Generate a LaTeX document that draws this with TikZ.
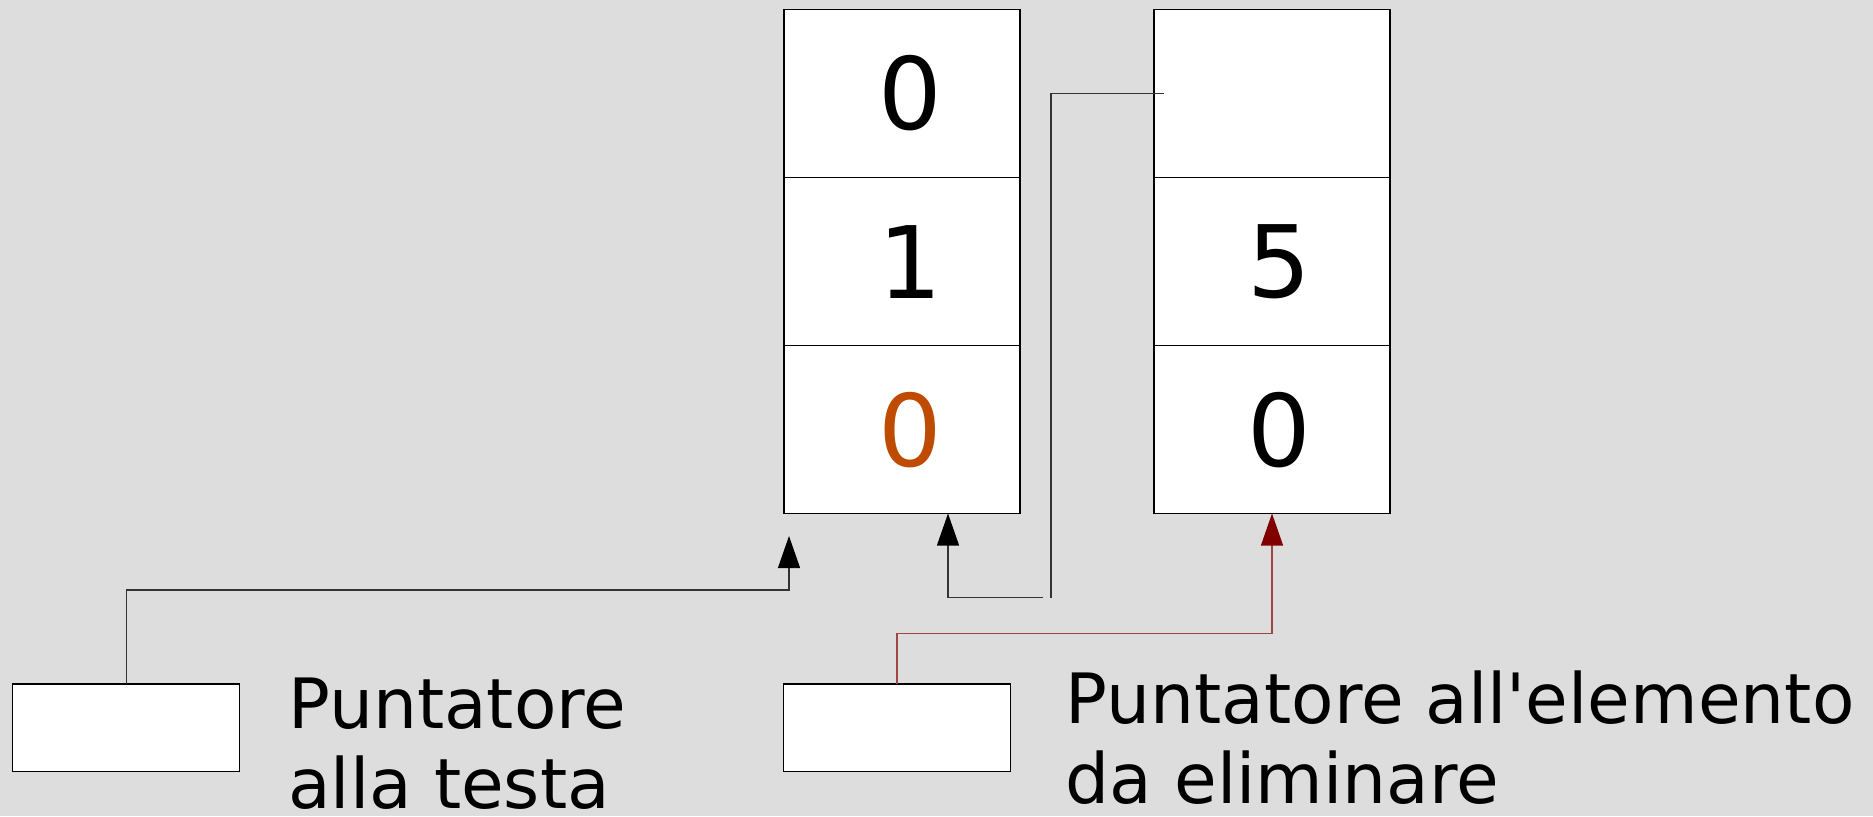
\documentclass[tikz,border=0pt]{standalone}
\usepackage{fontspec}
\setmainfont{DejaVu Sans}[Ligatures=TeXOff]
\usetikzlibrary{arrows.meta}
\definecolor{bg}{HTML}{DDDDDD}
\definecolor{orng}{HTML}{BE4B00}
\definecolor{dred}{HTML}{800000}
\definecolor{lred}{HTML}{A04545}
\definecolor{lgray}{HTML}{333333}
\begin{document}
\begin{tikzpicture}[x=0.5pt,y=-0.5pt,
 cell/.style={draw=black,fill=white,line width=0.6pt,minimum width=118pt,minimum height=84pt,inner sep=0pt,outer sep=0pt},
 ptrbox/.style={draw=black,fill=white,line width=0.6pt,minimum width=113.6pt,minimum height=43.6pt,inner sep=0pt,outer sep=0pt},
 digit/.style={font=\fontsize{50pt}{60pt}\selectfont,inner sep=0pt},
 lab/.style={font=\fontsize{34.7pt}{40pt}\selectfont,align=left,inner sep=0pt,anchor=base west},
 conn/.style={draw=lgray,line width=0.6pt},
 arr/.style={conn,-{Triangle[length=16pt,width=11pt,color=black]}},
 redarr/.style={draw=lred,line width=0.6pt,-{Triangle[length=16pt,width=11pt,color=dred]}}]
\useasboundingbox[fill=bg] (0,0) rectangle (1873,816);
% left element
\node[cell] (l0) at (902,93.5) {};
\node[cell] (l1) at (902,261.5) {};
\node[cell] (l2) at (902,429.5) {};
% right element
\node[cell] (r0) at (1272,93.5) {};
\node[cell] (r1) at (1272,261.5) {};
\node[cell] (r2) at (1272,429.5) {};
% digits
\node[digit] (d0) at (910,93.5) {0};
\node[digit] (d1) at (910,262) {1};
\node[digit,text=orng] (d2) at (910,430) {0};
\node[digit] (d4) at (1279,262) {5};
\node[digit] (d5) at (1279,430) {0};
% pointers
\node[ptrbox] (head) at (126.1,727.6) {};
\node[ptrbox] (del) at (897,727.6) {};
\node[lab] (tH) at (288,808) {Puntatore\\alla testa};
\node[lab] (tD) at (1065.5,803.3) {Puntatore all'elemento\\da eliminare};
% connectors
\coordinate (ht) at (789,536);
\draw[arr] (head.north) -- ++(0,-94) -| (ht);
\draw[redarr] (del.north) -- ++(0,-50.3) -| (r2.south);
\coordinate (c1) at (1043,597.7);
\coordinate (c3) at (1051,597.7);
\draw[arr] (c1) -| ([xshift=23pt]l2.south);
\draw[conn] ([xshift=4.75pt]r0.west) -| (c3);
\end{tikzpicture}
\end{document}
